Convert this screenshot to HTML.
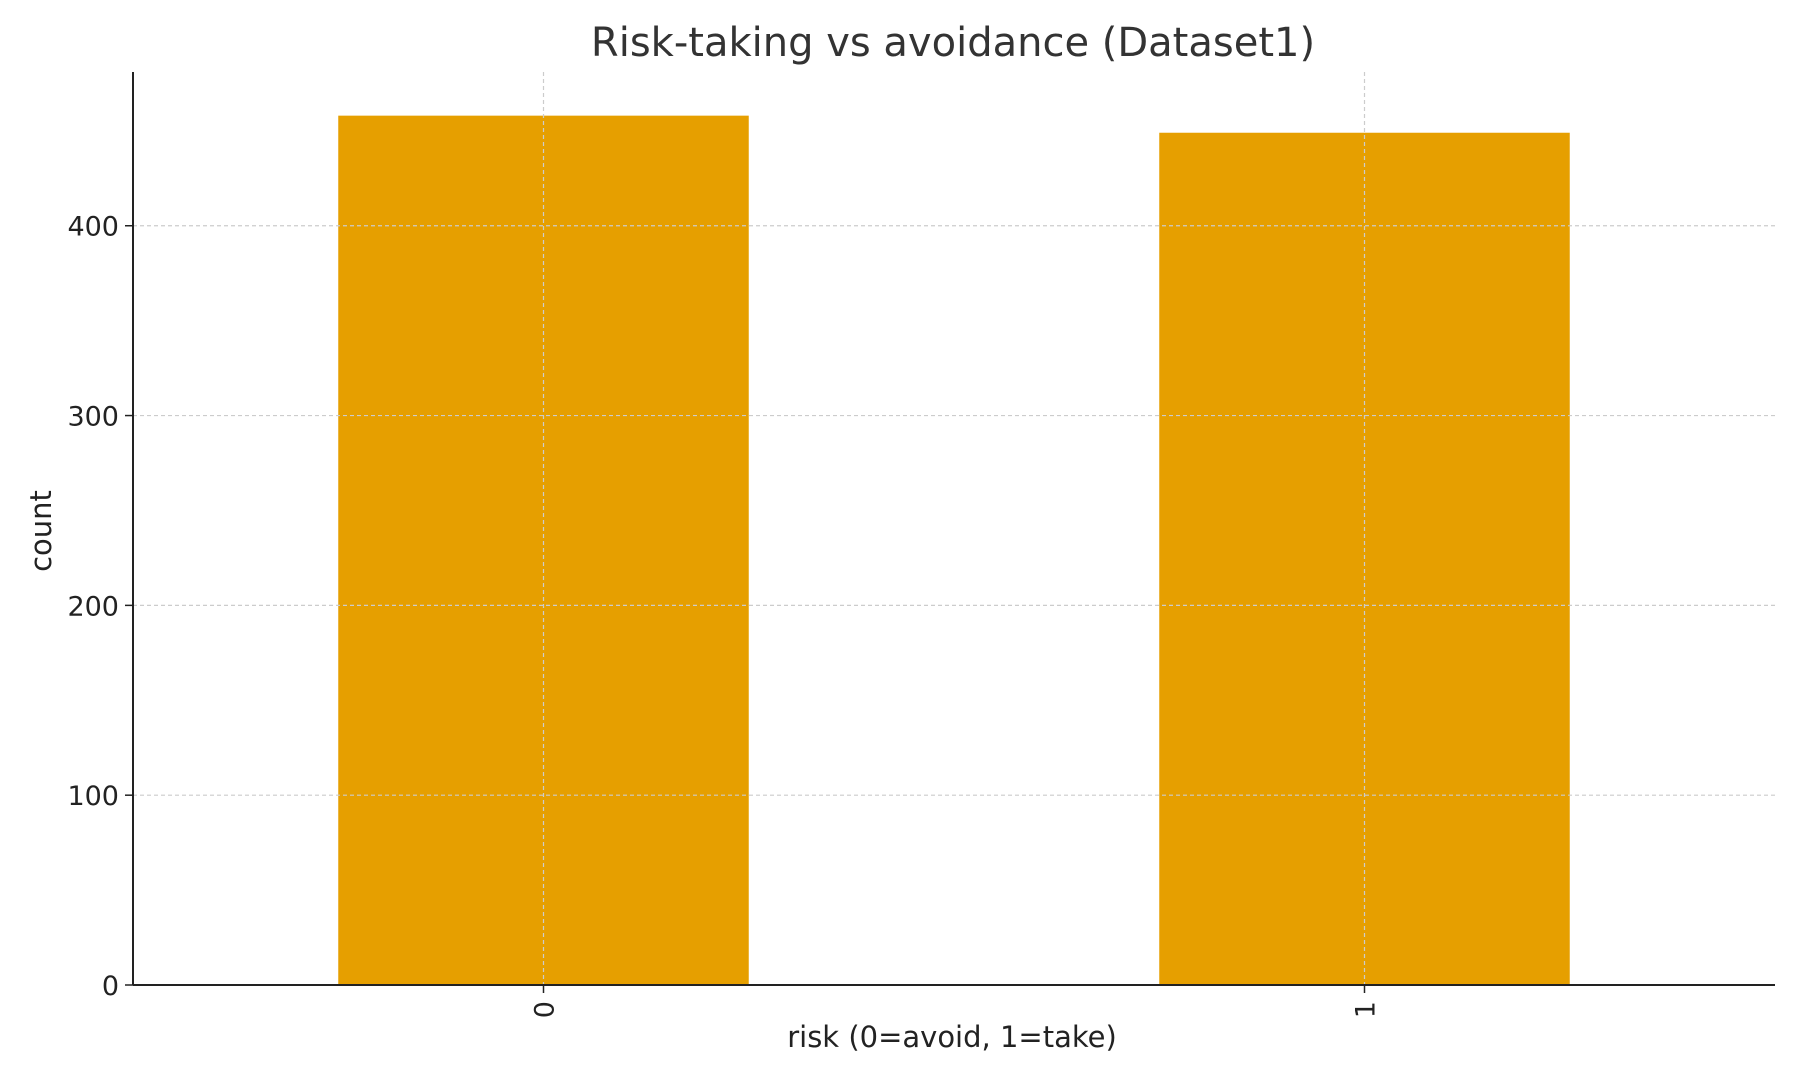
<!DOCTYPE html>
<html><head><meta charset="utf-8"><style>
body{margin:0;background:#fff;}
svg{display:block;font-family:"DejaVu Sans","Liberation Sans",sans-serif;}
</style></head><body>
<svg id="chart" width="1800" height="1080">
<g id="grid"></g><g id="bars"></g><g id="axes"></g>
<text x="953" y="56" font-size="40" fill="#333" text-anchor="middle">Risk-taking vs avoidance (Dataset1)</text>
<text x="952" y="1047" font-size="29" fill="#222" text-anchor="middle">risk (0=avoid, 1=take)</text>
<text transform="translate(51,531) rotate(-90)" font-size="29" fill="#222" text-anchor="middle">count</text>
</svg>
<script>
const categories=["0","1"];
const counts=[458,449];
const yTicks=[0,100,200,300,400];
const L=133,R=1775,T=72,B=985;
const ymax=481;
function y(v){return B-(v/ymax)*(B-T);}
function x(i){return L+(i+0.5)*(R-L)/categories.length;}
const ns="http://www.w3.org/2000/svg";
function mk(t,a,p){const e=document.createElementNS(ns,t);for(const k in a)e.setAttribute(k,a[k]);p.appendChild(e);return e;}
const grid=document.getElementById('grid'),bars=document.getElementById('bars'),axes=document.getElementById('axes');
yTicks.forEach(v=>{
 if(v>0){const g=mk('line',{x1:L,x2:R,y1:y(v),y2:y(v),stroke:'#ccc','stroke-dasharray':'4,3','stroke-width':1.2},grid);
 
 }
 const tk=mk('line',{x1:L-8,x2:L,y1:y(v),y2:y(v),stroke:'#222','stroke-width':1.5},axes);
 
 
 const t=mk('text',{x:L-14,y:y(v)+10,'font-size':27,fill:'#222','text-anchor':'end'},axes);
 t.textContent=v;
 
 
});
const bw=(R-L)/categories.length*0.5;
categories.forEach((c,i)=>{
 const g=mk('line',{x1:x(i),x2:x(i),y1:T,y2:B,stroke:'#ccc','stroke-dasharray':'4,3','stroke-width':1.2},grid);
 
 
 const r=mk('rect',{x:x(i)-bw/2,y:y(counts[i]),width:bw,height:B-y(counts[i]),fill:'#E69F00'},bars);
 
 
 const tk=mk('line',{x1:x(i),x2:x(i),y1:B,y2:B+8,stroke:'#222','stroke-width':1.5},axes);
 
 
 const t=mk('text',{transform:`translate(${x(i)+10},${B+16}) rotate(-90)`,'font-size':27,fill:'#222','text-anchor':'end'},axes);
 t.textContent=c;
 
 
});
bars.parentNode.insertBefore(bars,grid);
const la=mk('line',{x1:L,x2:L,y1:T,y2:B,stroke:'#222','stroke-width':2},axes);


const lb=mk('line',{x1:L,x2:R,y1:B,y2:B,stroke:'#222','stroke-width':2},axes);


</script>
</body></html>
